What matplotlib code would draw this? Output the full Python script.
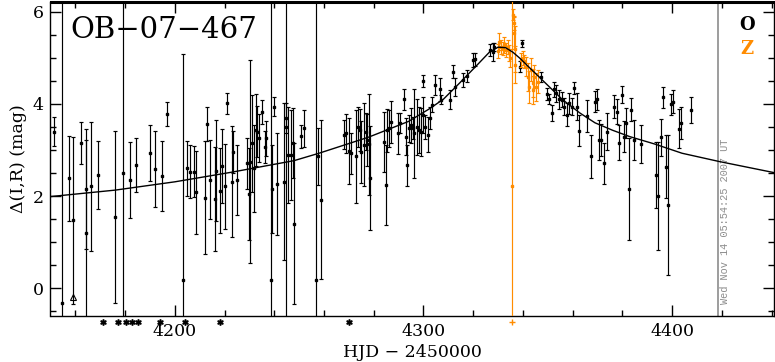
import matplotlib
matplotlib.use("Agg")
import matplotlib.pyplot as plt
import matplotlib.transforms as mtransforms
from matplotlib.ticker import MultipleLocator

# ---------------- data ----------------
# OGLE (O) photometry: HJD-2450000, delta mag, error
o_t = [4151.4, 4154.5, 4157.3, 4159.2, 4162.3, 4164.3, 4164.3, 4166.1, 4169.2, 4176.0,
       4179.2, 4182.1, 4184.4, 4190.2, 4192.1, 4195.0, 4196.9,
       4203.1, 4205.0, 4206.0, 4207.8, 4208.7, 4212.3, 4213.1, 4214.1, 4216.1, 4216.7,
       4218.1, 4219.0, 4220.1, 4221.0, 4223.0, 4223.4, 4225.2, 4229.2, 4229.9, 4230.1,
       4231.2, 4231.7, 4232.5, 4233.1, 4233.9, 4235.1, 4236.2, 4236.6, 4238.8, 4239.9,
       4239.2, 4241.1, 4243.9, 4244.9, 4244.7, 4245.5, 4246.9, 4247.8,
       4247.5, 4250.9, 4252.0, 4256.6, 4257.6, 4258.9, 4267.9, 4268.9, 4269.9, 4270.7,
       4273.0, 4273.6, 4274.3, 4275.0, 4275.9, 4276.7, 4277.4, 4278.1, 4278.7, 4284.0,
       4284.8, 4285.4, 4286.1, 4287.0, 4289.7, 4290.4, 4292.0, 4292.8, 4293.5, 4294.1,
       4295.1, 4296.0, 4296.4, 4297.3, 4298.1, 4299.1, 4300.0, 4300.8, 4301.8, 4302.7,
       4303.5, 4300.0, 4304.8, 4306.8, 4307.0, 4310.7, 4311.8, 4312.5, 4315.8, 4317.4,
       4319.8, 4320.9, 4326.9, 4327.9, 4328.5, 4339.6, 4339.0,
       4347.3, 4349.6, 4350.6, 4351.6, 4352.6, 4353.3, 4354.6, 4355.6, 4356.4, 4357.6,
       4358.4, 4359.7, 4360.7, 4361.7, 4362.4, 4365.6, 4367.5, 4369.0, 4369.8, 4370.7,
       4371.6, 4372.5, 4373.7, 4376.5, 4377.7, 4378.5, 4379.7, 4380.5, 4381.4, 4382.5,
       4383.4, 4384.5, 4387.4,
       4393.5, 4394.5, 4395.5, 4396.4, 4397.5, 4398.4, 4399.5, 4400.4, 4402.6, 4403.5,
       4407.5]
o_mag = [3.40, -0.31, 2.39, 1.48, 3.15, 2.15, 1.21, 2.21, 2.46, 1.55,
         2.50, 2.35, 2.68, 2.93, 2.59, 2.44, 3.79,
         0.18, 2.60, 2.53, 2.53, 2.08, 1.97, 3.56, 2.36, 1.93, 2.55,
         2.12, 2.66, 2.21, 4.01, 2.31, 2.96, 2.35, 2.71, 2.05, 2.75,
         3.15, 2.60, 3.43, 3.40, 3.27, 3.83, 3.07, 3.25, 0.18, 3.94,
         2.15, 2.26, 2.31, 3.50, 3.69, 2.89, 2.89, 1.40,
         3.15, 3.30, 3.47, 0.18, 2.86, 1.92, 3.33, 3.36, 2.98, 2.93,
         2.86, 3.50, 3.43, 2.96, 3.11, 3.40, 3.22, 3.12, 2.39, 3.18,
         2.24, 3.43, 3.47, 3.61, 3.36, 3.58, 4.10, 3.29, 2.67, 3.47,
         3.54, 3.47, 3.36, 3.50, 3.43, 3.40, 3.76, 3.50, 3.33, 3.69,
         3.98, 4.50, 4.41, 4.32, 4.09, 4.09, 4.70, 4.37, 4.52, 4.60,
         4.95, 4.97, 5.17, 5.13, 5.23, 5.31, 4.81,
         4.58, 4.22, 4.10, 3.80, 4.32, 4.23, 4.10, 4.09, 3.94, 3.76,
         4.01, 3.94, 4.34, 3.94, 3.42, 3.74, 2.86, 4.05, 4.10, 3.22,
         3.22, 2.71, 3.40, 3.94, 3.83, 3.16, 4.20, 3.29, 3.58, 2.15,
         3.87, 3.22, 3.13,
         2.46, 2.00, 3.28, 4.14, 2.64, 1.81, 3.99, 4.05, 3.46, 3.58,
         3.87]
o_err = [0.32, 8.0, 0.92, 1.81, 0.46, 1.30, 2.00, 1.39, 0.74, 1.87,
         8.0, 0.83, 0.59, 0.61, 0.83, 0.76, 0.26,
         4.90, 0.60, 0.57, 0.55, 0.90, 1.22, 0.37, 0.86, 1.13, 1.10,
         0.93, 0.80, 0.93, 0.22, 1.20, 0.46, 0.76, 0.56, 1.00, 2.20,
         1.05, 0.94, 0.78, 0.56, 0.52, 0.26, 0.35, 0.37, 8.0, 0.21,
         0.96, 1.10, 1.70, 8.0, 0.33, 1.05, 0.98, 1.75,
         0.76, 0.25, 0.40, 8.0, 0.62, 1.72, 0.31, 0.43, 0.72, 0.44,
         1.00, 0.43, 0.45, 0.67, 0.90, 0.40, 0.56, 1.10, 1.12, 0.65,
         0.87, 0.47, 0.40, 0.46, 0.45, 0.22, 0.23, 0.40, 0.44, 0.29,
         0.38, 0.24, 0.96, 0.60, 0.50, 0.52, 0.40, 0.27, 0.38, 0.24,
         0.16, 0.13, 0.22, 0.25, 0.10, 0.21, 0.14, 0.20, 0.16, 0.13,
         0.16, 0.14, 0.13, 0.20, 0.09, 0.07, 0.11,
         0.11, 0.13, 0.11, 0.18, 0.16, 0.18, 0.20, 0.16, 0.18, 0.25,
         0.23, 0.18, 0.13, 0.29, 0.34, 0.34, 0.47, 0.22, 0.23, 0.44,
         0.34, 0.45, 0.40, 0.25, 0.27, 0.38, 0.19, 0.33, 0.33, 1.10,
         0.25, 0.43, 0.42,
         0.72, 1.17, 0.40, 0.22, 0.68, 1.52, 0.23, 0.25, 0.42, 0.35,
         0.28]

# Z photometry
z_t = [4329.9, 4330.5, 4331.2, 4331.9, 4332.5, 4333.2, 4333.9, 4334.6, 4335.0,
       4336.1, 4336.3, 4336.5, 4336.7, 4336.9, 4335.7,
       4339.2, 4339.9, 4340.6, 4341.3, 4341.9, 4342.6, 4343.3, 4343.9, 4344.2,
       4344.6, 4345.3, 4345.9]
z_mag = [5.15, 5.35, 5.24, 5.20, 5.28, 5.17, 5.24, 5.10, 4.99,
         5.93, 5.75, 5.53, 5.20, 4.85, 2.23,
         4.95, 4.99, 4.92, 4.81, 4.59, 4.37, 4.74, 4.45, 4.30,
         4.59, 4.37, 4.48]
z_err = [0.15, 0.18, 0.15, 0.15, 0.18, 0.15, 0.15, 0.18, 0.20,
         0.12, 0.15, 0.35, 0.50, 0.40, 8.0,
         0.15, 0.15, 0.15, 0.20, 0.30, 0.35, 0.25, 0.30, 0.30,
         0.25, 0.30, 0.25]

# lone triangle point
tri_t = [4159.0]
tri_mag = [-0.18]

# points below the plotted range (drawn under the axis)
o_below_t = [4171.2, 4177.2, 4180.3, 4182.6, 4185.0, 4194.0, 4204.0, 4218.1, 4269.9]
z_below_t = [4335.7]

# model curve
model_t = [4150, 4176, 4200, 4223, 4248, 4258, 4278, 4294, 4302, 4308, 4314.5, 4321,
           4326.5, 4330, 4333, 4336, 4339, 4342, 4347, 4356, 4363, 4369, 4376, 4383,
           4393, 4404, 4419, 4441]
model_mag = [1.99, 2.13, 2.31, 2.52, 2.77, 2.93, 3.28, 3.62, 3.88, 4.10, 4.45, 4.81,
             5.12, 5.23, 5.22, 5.12, 4.98, 4.82, 4.56, 4.09, 3.80, 3.59, 3.43, 3.29,
             3.13, 2.93, 2.75, 2.51]

title = "OB\u221207\u2212467"
xlabel = "HJD \u2212 2450000"
ylabel = "\u0394(I,R) (mag)"
stamp = "Wed Nov 14 05:54:25 2007 UT"
now_t = 4418.5
series_names = ["O", "Z"]

# ---------------- plotting ----------------
ORANGE = "#ff8c00"
GRAY = "#8c8c8c"
serif = "DejaVu Serif"

fig = plt.figure(figsize=(7.75, 3.62), dpi=100)
ax = fig.add_axes([50.5 / 775, (362 - 316) / 362, (774 - 50.5) / 775, (316 - 2) / 362])

ax.errorbar(o_t, o_mag, yerr=o_err, fmt="s", ms=1.5, color="black", ecolor="black",
            elinewidth=0.85, capsize=1.6, capthick=0.85, zorder=3)
ax.errorbar(z_t, z_mag, yerr=z_err, fmt="s", ms=1.5, color=ORANGE, ecolor=ORANGE,
            elinewidth=0.85, capsize=1.6, capthick=0.85, zorder=4)
ax.plot(tri_t, tri_mag, ls="none", marker="^", ms=5, mfc="none", mec="black", mew=0.8)
ax.plot(model_t, model_mag, color="black", lw=1.0, zorder=5)

ax.axvline(now_t, color=GRAY, lw=1.2, zorder=1)
ax.text(now_t + 2.6, -0.33, stamp, rotation=90, ha="center", va="bottom",
        color=GRAY, fontsize=7.4, family="Liberation Mono")

trans = mtransforms.blended_transform_factory(ax.transData, ax.transAxes)
ax.plot(o_below_t, [-0.018] * len(o_below_t), ls="none", marker="$*$", ms=3.8,
        color="black", transform=trans, clip_on=False)
ax.plot(z_below_t, [-0.018] * len(z_below_t), ls="none", marker="+", ms=4.5, mew=1,
        color=ORANGE, transform=trans, clip_on=False)

ax.set_xlim(4150, 4441)
ax.set_ylim(-0.6, 6.21)

ax.xaxis.set_major_locator(MultipleLocator(100))
ax.xaxis.set_minor_locator(MultipleLocator(20))
ax.yaxis.set_major_locator(MultipleLocator(2))
ax.yaxis.set_minor_locator(MultipleLocator(0.5))
ax.tick_params(which="both", direction="in", top=True, right=True, width=1, color="black")
ax.tick_params(which="major", length=8, labelsize=12.5, pad=5)
ax.tick_params(which="minor", length=4.5)
for lab in ax.get_xticklabels() + ax.get_yticklabels():
    lab.set_family(serif)

for s in ax.spines.values():
    s.set_linewidth(1.0)
ax.spines["top"].set_linewidth(2.2)

ax.set_xlabel(xlabel, fontsize=12.5, family=serif, labelpad=3)
ax.set_ylabel(ylabel, fontsize=12.5, family=serif, labelpad=4)

ax.text(0.027, 0.955, title, transform=ax.transAxes, ha="left", va="top",
        fontsize=21, family=serif)
ax.text(0.963, 0.955, series_names[0], transform=ax.transAxes, ha="center", va="top",
        fontsize=13, family=serif, color="black", fontweight="bold")
ax.text(0.963, 0.88, series_names[1], transform=ax.transAxes, ha="center", va="top",
        fontsize=13, family=serif, color=ORANGE, fontweight="bold")

fig.savefig("out.png", dpi=100)
